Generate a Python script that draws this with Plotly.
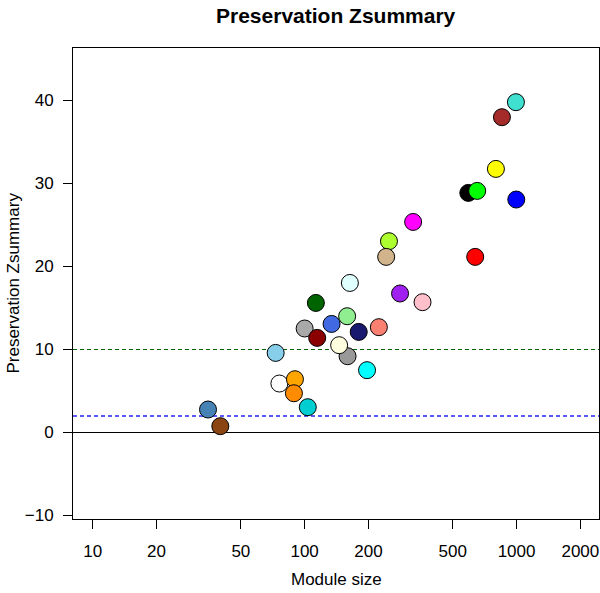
import plotly.graph_objects as go

module_colors = ["steelblue", "saddlebrown", "skyblue", "white", "orange", "darkorange",
                 "darkturquoise", "darkgrey", "darkgreen", "darkred", "royalblue",
                 "lightgreen", "lightcyan", "grey60", "lightyellow", "midnightblue", "cyan",
                 "salmon", "greenyellow", "tan", "purple", "pink", "magenta", "black",
                 "green", "red", "yellow", "blue", "brown", "turquoise"]
module_size = [35, 40, 73, 76, 90, 89, 103.5, 100, 113, 114.6, 134, 158.7, 163.5, 159.4,
               145.5, 180, 197, 224, 250, 242.5, 282, 360, 325, 592, 652, 638, 799, 997,
               853, 993]
zsummary = [2.77, 0.76, 9.59, 5.90, 6.42, 4.73, 3.05, 12.53, 15.61, 11.40, 13.08, 14.01,
            18.02, 9.19, 10.52, 12.12, 7.51, 12.69, 23.05, 21.16, 16.75, 15.70, 25.37,
            28.87, 29.11, 21.16, 31.76, 28.07, 37.99, 39.80]

hex_colors = {
    "steelblue": "#4682B4", "saddlebrown": "#8B4513", "skyblue": "#87CEEB", "white": "#FFFFFF",
    "orange": "#FFA500", "darkorange": "#FF8C00", "darkturquoise": "#00CED1",
    "darkgrey": "#A9A9A9", "darkgreen": "#006400", "darkred": "#8B0000",
    "royalblue": "#4169E1", "lightgreen": "#90EE90", "lightcyan": "#E0FFFF",
    "grey60": "#999999", "lightyellow": "#FFFFE0", "midnightblue": "#191970",
    "cyan": "#00FFFF", "salmon": "#FA8072", "greenyellow": "#ADFF2F", "tan": "#D2B48C",
    "purple": "#A020F0", "pink": "#FFC0CB", "magenta": "#FF00FF", "black": "#000000",
    "green": "#00FF00", "red": "#FF0000", "yellow": "#FFFF00", "blue": "#0000FF",
    "brown": "#A52A2A", "turquoise": "#40E0D0",
}

x_ticks = [10, 20, 50, 100, 200, 500, 1000, 2000]
y_ticks = [-10, 0, 10, 20, 30, 40]
thresholds = [0, 2, 10]

font = "Liberation Sans, Arial, Helvetica, sans-serif"

fig = go.Figure()
fig.add_trace(go.Scatter(
    x=module_size, y=zsummary, mode="markers",
    text=module_colors,
    marker=dict(size=17, color=[hex_colors[c] for c in module_colors],
                line=dict(color="black", width=1)),
    showlegend=False, hoverinfo="text+x+y",
))

# reference lines
fig.add_shape(type="line", xref="paper", x0=0, x1=1, yref="y", y0=thresholds[0], y1=thresholds[0],
              line=dict(color="black", width=1), layer="below")
fig.add_shape(type="line", xref="paper", x0=0, x1=1, yref="y", y0=thresholds[1], y1=thresholds[1],
              line=dict(color="rgba(60,60,255,0.85)", width=2, dash="4px,3px"), layer="below")
fig.add_shape(type="line", xref="paper", x0=0, x1=1, yref="y", y0=thresholds[2], y1=thresholds[2],
              line=dict(color="#006400", width=1, dash="4px,3px"), layer="below")

fig.update_layout(
    width=600, height=593,
    margin=dict(l=73, r=1, t=48, b=74),
    paper_bgcolor="white", plot_bgcolor="white",
    font=dict(family=font, size=17, color="black"),
    xaxis=dict(type="log", range=[0.907, 3.389],
               tickvals=x_ticks, ticktext=[str(v) for v in x_ticks],
               showgrid=False, zeroline=False,
               showline=True, mirror=True, linecolor="black", linewidth=1,
               ticks="outside", ticklen=9, tickcolor="black", tickwidth=1,
               ticklabelstandoff=8, tickfont=dict(size=17)),
    yaxis=dict(range=[-10.422, 46.328],
               tickvals=y_ticks,
               showgrid=False, zeroline=False,
               showline=True, mirror=True, linecolor="black", linewidth=1,
               ticks="outside", ticklen=9, tickcolor="black", tickwidth=1,
               ticklabelstandoff=6, tickfont=dict(size=17)),
    annotations=[
        dict(text="<b>Preservation Zsummary</b>", xref="paper", yref="paper",
             x=0.5, y=1.070, xanchor="center", yanchor="middle", showarrow=False,
             font=dict(size=21)),
        dict(text="Module size", xref="paper", yref="paper",
             x=0.5, y=-0.1295, xanchor="center", yanchor="middle", showarrow=False,
             font=dict(size=17)),
        dict(text="Preservation Zsummary", xref="paper", yref="paper",
             x=-0.114, y=0.5, xanchor="center", yanchor="middle", showarrow=False,
             textangle=-90, font=dict(size=17)),
    ],
)

fig.write_html("out.html",
               config={"displayModeBar": False},
               post_script="document.body.style.margin='0';document.body.style.padding='0';")
